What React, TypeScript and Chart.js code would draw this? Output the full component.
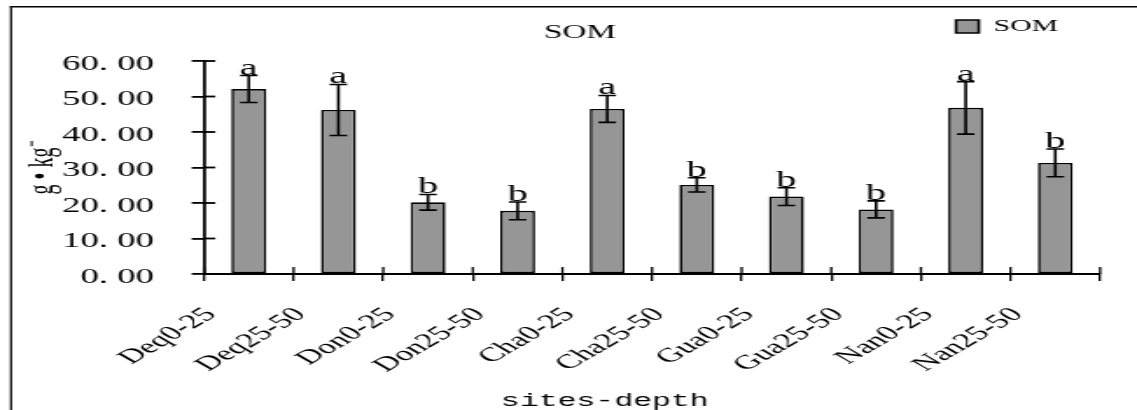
import React, { useEffect, useRef } from 'react';
import { Chart, registerables } from 'chart.js';

Chart.register(...registerables);

// ---- data ----
const categories = ['Deq0-25', 'Deq25-50', 'Don0-25', 'Don25-50', 'Cha0-25', 'Cha25-50', 'Gua0-25', 'Gua25-50', 'Nan0-25', 'Nan25-50'];
const somValues = [52.1, 46.2, 20.2, 17.8, 46.5, 25.1, 21.8, 18.2, 46.8, 31.3];
const somErrors = [3.8, 7.2, 2.2, 2.5, 3.8, 2.0, 2.5, 2.4, 7.4, 3.9];
const sigLetters = ['a', 'a', 'b', 'b', 'a', 'b', 'b', 'b', 'a', 'b'];
const yMin = 0;
const yMax = 60;
const yStep = 10;

// natural canvas is narrower; it is stretched horizontally by CSS like the reference picture
const NAT_W = 650;
const NAT_H = 410;

const SERIF = "'Liberation Serif', 'Times New Roman', serif";
const MONO = "'Liberation Mono', monospace";

const framePlugin = {
  id: 'frame',
  beforeDraw(chart: any) {
    const { ctx, width, height } = chart;
    ctx.save();
    ctx.strokeStyle = '#000';
    ctx.lineWidth = 1.2;
    ctx.beginPath();
    ctx.moveTo(6.3, height + 5);
    ctx.lineTo(6.3, 6);
    ctx.stroke();
    ctx.lineWidth = 1.5;
    ctx.beginPath();
    ctx.moveTo(5.7, 6.7);
    ctx.lineTo(width + 5, 6.7);
    ctx.stroke();
    ctx.restore();
  },
};

const innerTicksPlugin = {
  id: 'innerTicks',
  afterDatasetsDraw(chart: any) {
    const { ctx, chartArea } = chart;
    const xs = chart.scales.x;
    const ys = chart.scales.y;
    ctx.save();
    ctx.strokeStyle = '#000';
    ctx.lineWidth = 1.8;
    ys.ticks.forEach((_t: any, i: number) => {
      const py = ys.getPixelForTick(i);
      ctx.beginPath();
      ctx.moveTo(chartArea.left, py);
      ctx.lineTo(chartArea.left + 6.5, py);
      ctx.stroke();
    });
    ctx.lineWidth = 1.3;
    for (let i = 0; i <= categories.length; i++) {
      const px = xs.getPixelForValue(i - 0.5);
      ctx.beginPath();
      ctx.moveTo(px, chartArea.bottom);
      ctx.lineTo(px, chartArea.bottom - 7);
      ctx.stroke();
    }
    ctx.restore();
  },
};

const errorBarPlugin = {
  id: 'errorBars',
  afterDatasetsDraw(chart: any) {
    const { ctx } = chart;
    const meta = chart.getDatasetMeta(0);
    const ys = chart.scales.y;
    ctx.save();
    ctx.strokeStyle = '#000';
    ctx.fillStyle = '#000';
    ctx.lineWidth = 1.6;
    meta.data.forEach((bar: any, i: number) => {
      const x = bar.x;
      const top = ys.getPixelForValue(somValues[i] + somErrors[i]);
      const bot = ys.getPixelForValue(somValues[i] - somErrors[i]);
      ctx.beginPath();
      ctx.moveTo(x, top);
      ctx.lineTo(x, bot);
      ctx.moveTo(x - 5, top);
      ctx.lineTo(x + 5, top);
      ctx.moveTo(x - 5, bot);
      ctx.lineTo(x + 5, bot);
      ctx.stroke();
      ctx.font = `23px ${SERIF}`;
      ctx.textAlign = 'center';
      ctx.textBaseline = 'alphabetic';
      ctx.fillText(sigLetters[i], x, top - 1);
    });
    ctx.restore();
  },
};

export default function App() {
  const ref = useRef<HTMLCanvasElement>(null);

  useEffect(() => {
    document.body.style.margin = '0';
    Chart.defaults.color = '#000';
    const chart = new Chart(ref.current as HTMLCanvasElement, {
      type: 'bar',
      data: {
        labels: categories,
        datasets: [
          {
            label: 'SOM',
            data: somValues,
            backgroundColor: '#969696',
            borderColor: '#000',
            borderWidth: 1.6,
            borderSkipped: false,
            barPercentage: 0.39,
            categoryPercentage: 1,
          },
        ],
      },
      options: {
        responsive: false,
        animation: false,
        devicePixelRatio: 1,
        events: [],
        layout: { padding: { left: 34.3, right: 21.1, top: -6, bottom: 0 } },
        plugins: {
          title: {
            display: true,
            text: 'SOM',
            weight: 500,
            color: '#000',
            font: { family: SERIF, size: 19, weight: 'normal' },
            padding: { top: -23.2, bottom: 16.4 },
          },
          legend: {
            display: true,
            position: 'top',
            align: 'end',
            labels: {
              boxWidth: 13,
              boxHeight: 13,
              padding: 24,
              color: '#000',
              font: { family: SERIF, size: 17 },
            },
          },
          tooltip: { enabled: false },
        },
        scales: {
          x: {
            type: 'category',
            offset: true,
            grid: { offset: true, drawOnChartArea: false, drawTicks: true, tickLength: 7, color: '#000', lineWidth: 1.3 },
            border: { display: true, color: '#000', width: 2 },
            ticks: {
              autoSkip: false,
              minRotation: 45,
              maxRotation: 45,
              padding: 22,
              labelOffset: -21.5,
              color: '#000',
              font: { family: SERIF, size: 20 },
            },
            title: {
              display: true,
              text: 'sites-depth     ',
              color: '#000',
              font: { family: MONO, size: 18 },
              padding: { top: 0, bottom: -2 },
            },
            afterFit: (s: any) => {
              s.height = 136;
            },
          },
          y: {
            min: yMin,
            max: yMax,
            ticks: {
              stepSize: yStep,
              padding: 21.6,
              labelOffset: 3,
              color: '#000',
              font: { family: SERIF, size: 21 },
              callback: (v: any) => Number(v).toFixed(2).replace('.', '. '),
            },
            grid: { drawOnChartArea: false, tickLength: 7, color: '#000', lineWidth: 1.8 },
            border: { color: '#000', width: 1.75 },
            title: {
              display: true,
              text: 'g • kg⁻',
              color: '#000',
              font: { family: SERIF, size: 20 },
              padding: { top: -21.9, bottom: 0 },
            },
            afterFit: (s: any) => {
              s.width = 82.3;
            },
          },
        },
      } as any,
      plugins: [framePlugin, innerTicksPlugin, errorBarPlugin],
    });
    return () => chart.destroy();
  }, []);

  return (
    <canvas
      ref={ref}
      width={NAT_W}
      height={NAT_H}
      style={{ width: '1137px', height: '410px', display: 'block' }}
    />
  );
}
